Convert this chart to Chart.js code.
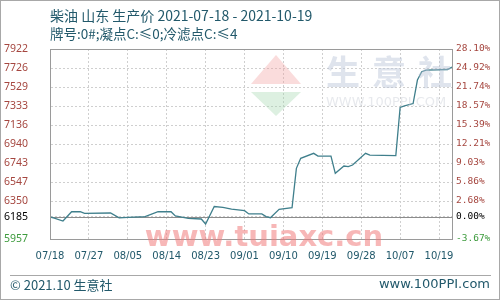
<!DOCTYPE html>
<html>
<head>
<meta charset="utf-8">
<script src="https://cdn.jsdelivr.net/npm/chart.js@4"></script>
<style>
  body { margin: 0; background: #fff; }
  #box { width: 500px; height: 300px; }
</style>
</head>
<body>
<div id="box"><canvas id="myChart"></canvas></div>
<script>
// days counted from 2021-07-18
const days = [0,1,3,5,7,8,14,16,18,22,25,28,29,32,35,36,38,40,42,45,46,49,50,51,53,56,57,58,61,62,65,66,68,69,70,73,74,80,81,82,84,85,86,87,92,93];
const prices = [6185,6172,6143,6239,6239,6223,6226,6175,6180,6188,6239,6239,6195,6171,6164,6112,6293,6283,6267,6250,6216,6216,6188,6177,6264,6281,6688,6791,6843,6815,6815,6636,6712,6705,6722,6843,6825,6820,7317,7333,7358,7601,7687,7704,7710,7736];

const xTickDays = [0,9,18,27,36,45,54,63,72,81,90];
const xTickLabels = ['07/18','07/27','08/05','08/14','08/23','09/01','09/10','09/19','09/28','10/07','10/19'];

const baseValue = 6185;
const yTickValues = [5957,6185,6350,6546.5,6743,6939.5,7136,7332.5,7529,7725.5,7922];
const yTickLabels = ['5957','6185','6350','6547','6743','6940','7136','7333','7529','7726','7922'];
const pctTickLabels = ['-3.67%','0.00%','2.68%','5.86%','9.03%','12.21%','15.39%','18.57%','21.74%','24.92%','28.10%'];

const titleText = '柴油 山东 生产价 2021-07-18 - 2021-10-19';
const subTitleText = '牌号:0#;凝点C:≤0;冷滤点C:≤4';

function tickColor(ctx) {
  const v = ctx.tick.value;
  if (v > baseValue) return '#a5463f';
  if (v < baseValue) return '#3d9b3d';
  return '#000';
}

const decor = {
  id: 'decor',
  beforeDatasetsDraw(chart) {
    const c = chart.ctx, a = chart.chartArea;
    const y0 = chart.scales.y.getPixelForValue(baseValue);
    c.save();
    c.strokeStyle = '#8c8c8c';
    c.lineWidth = 1;
    c.beginPath();
    c.moveTo(a.left, Math.round(y0) + 0.5);
    c.lineTo(a.right, Math.round(y0) + 0.5);
    c.stroke();
    c.restore();
  },
  afterDatasetsDraw(chart) {
    const c = chart.ctx;
    c.save();
    // 100ppi logo watermark
    c.globalAlpha = 0.35;
    c.fillStyle = '#f29a9a';
    c.beginPath(); c.moveTo(276, 55); c.lineTo(301, 84); c.lineTo(251, 84); c.closePath(); c.fill();
    c.fillStyle = '#9fd3a8';
    c.beginPath(); c.moveTo(251, 92); c.lineTo(301, 92); c.lineTo(276, 116); c.closePath(); c.fill();
    c.globalAlpha = 0.45;
    c.fillStyle = '#b8c3d6';
    c.font = 'bold 34px "Noto Sans CJK SC"';
    c.textBaseline = 'middle';
    c.fillText('生', 326, 72);
    c.fillText('意', 372, 72);
    c.fillText('社', 418, 72);
    c.font = '13px "DejaVu Sans"';
    c.fillStyle = '#c9ced8';
    c.fillText('WWW.100PPI.COM', 326, 103);
    c.restore();
  },
  afterDraw(chart) {
    const c = chart.ctx, a = chart.chartArea;
    c.save();
    // frame
    c.strokeStyle = '#9a9a9a';
    c.lineWidth = 1;
    c.strokeRect(Math.round(a.left) + 0.5, Math.round(a.top) + 0.5, Math.round(a.right - a.left), Math.round(a.bottom - a.top));
    c.strokeStyle = '#a8a8a8';
    c.strokeRect(0.5, 0.5, 499, 299);
    c.beginPath(); c.moveTo(10, 275.5); c.lineTo(491, 275.5); c.stroke();
    // titles
    c.fillStyle = '#22596b';
    c.textBaseline = 'middle';
    c.font = '14px "Noto Sans CJK SC"';
    c.fillText(titleText, 50, 16);
    c.font = '13.5px "Noto Sans CJK SC"';
    c.fillText(subTitleText, 50, 34);
    // footer
    c.font = '13px "Noto Sans CJK SC"';
    c.fillText('© 2021.10 生意社', 10, 285);
    c.textAlign = 'right';
    c.font = '13px "DejaVu Sans"';
    c.fillText('www.100PPI.com', 490, 285);
    // tuiaxc watermark
    c.textAlign = 'center';
    c.globalAlpha = 0.55;
    c.fillStyle = '#f07b7b';
    c.font = 'bold 29px "DejaVu Sans"';
    c.fillText('www.tuiaxc.cn', 264, 238);
    c.restore();
  }
};

new Chart(document.getElementById('myChart'), {
  type: 'line',
  data: {
    datasets: [{
      data: days.map((d, i) => ({ x: d, y: prices[i] })),
      borderColor: '#3f7f8c',
      borderWidth: 1.3,
      pointRadius: 0,
      tension: 0,
      fill: false
    }]
  },
  options: {
    responsive: true,
    maintainAspectRatio: false,
    animation: false,
    layout: { padding: { top: 49, bottom: 36, left: 0, right: 0 } },
    plugins: {
      legend: { display: false },
      tooltip: { enabled: false }
    },
    scales: {
      x: {
        type: 'linear',
        min: 0,
        max: 93,
        afterBuildTicks: (s) => { s.ticks = xTickDays.map(v => ({ value: v })); },
        afterFit: (s) => { s.height = 25; },
        grid: { color: '#cfcfcf', drawTicks: false },
        border: { display: true, color: '#9a9a9a', dash: [2, 2] },
        ticks: {
          autoSkip: false,
          maxRotation: 0,
          padding: 11,
          color: '#22596b',
          font: { family: 'DejaVu Sans', size: 10 },
          callback: (v, i) => xTickLabels[i]
        }
      },
      y: {
        position: 'left',
        min: 5957,
        max: 7922,
        afterBuildTicks: (s) => { s.ticks = yTickValues.map(v => ({ value: v })); },
        afterFit: (s) => { s.width = 50; },
        grid: { color: '#cfcfcf', drawTicks: false },
        border: { display: true, color: '#9a9a9a', dash: [2, 2] },
        ticks: {
          autoSkip: false,
          padding: 22,
          color: tickColor,
          font: { family: 'Noto Sans', size: 10.5 },
          callback: (v, i) => yTickLabels[i]
        }
      },
      y2: {
        position: 'right',
        min: 5957,
        max: 7922,
        afterBuildTicks: (s) => { s.ticks = yTickValues.map(v => ({ value: v })); },
        afterFit: (s) => { s.width = 48; },
        grid: { display: false, drawTicks: false },
        border: { display: true, color: '#9a9a9a' },
        ticks: {
          autoSkip: false,
          padding: 4,
          color: tickColor,
          font: { family: 'DejaVu Sans Mono', size: 9.5 },
          callback: (v, i) => pctTickLabels[i]
        }
      }
    }
  },
  plugins: [decor]
});
</script>
</body>
</html>
